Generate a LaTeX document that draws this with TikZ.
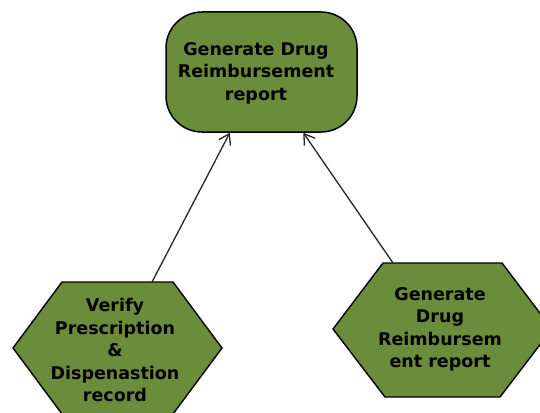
\documentclass[tikz,border=0pt]{standalone}
\usepackage{fontspec}
\setmainfont{DejaVu Sans}
\usetikzlibrary{arrows.meta}
\definecolor{olive}{RGB}{107,140,59}
\tikzset{
  label text/.style={font=\bfseries\fontsize{17.5}{22.5}\selectfont, align=center, text=black},
  taskbox/.style={draw=black, line width=1.5pt, fill=olive, rounded corners=36pt,
    minimum width=191pt, minimum height=120pt, inner sep=0pt},
  hexshape/.style={draw=black, line width=1.4pt, fill=olive, line join=miter},
  flow/.style={draw=black!85, line width=1.3pt, -{Straight Barb[length=10pt,width=13pt,line width=1.3pt]}},
}
\begin{document}
\begin{tikzpicture}[x=1pt,y=-1pt]
  \useasboundingbox (0,0) rectangle (540,412);
  \clip (0,0) rectangle (540,412);

  % top goal: box and its caption
  \node[taskbox] (report) at (261.5,72) {};
  \node[label text] (reporttext) at (256,73) {Generate Drug\\Reimbursement\\report};

  % left hexagon
  \path[hexshape] (13,348) -- (62,282) -- (173,282) -- (222,348) -- (173,414) -- (62,414) -- cycle;
  \node[label text] (verify) at (115,350) {Verify\\Prescription\\\&\\Dispenastion\\record};
  \coordinate (verifytop) at (152,282);

  % right hexagon
  \path[hexshape] (333,329) -- (383,263) -- (502,263) -- (552,329) -- (500,397) -- (385,397) -- cycle;
  \node[label text] (generate) at (440,329.5) {Generate\\Drug\\Reimbursem\\ent report};
  \coordinate (generatetop) at (393,263);

  % connectors
  \draw[flow] (verifytop) -- (report);
  \draw[flow] (generatetop) -- (report);
\end{tikzpicture}
\end{document}
